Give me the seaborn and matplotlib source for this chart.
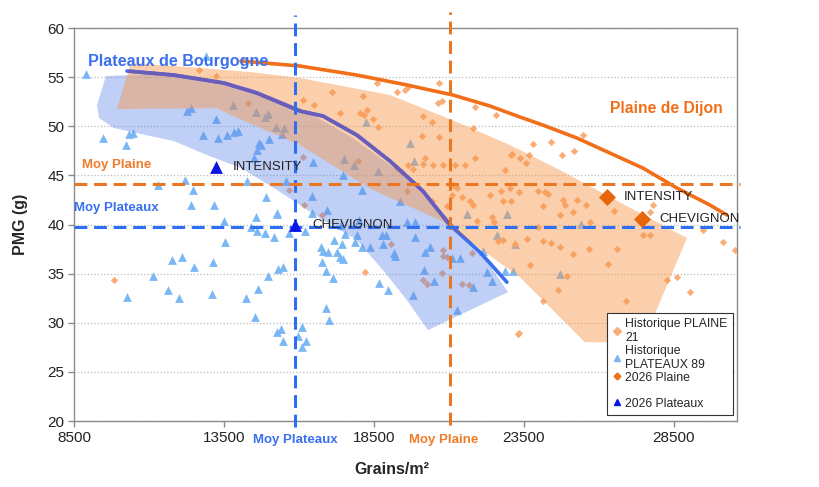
import matplotlib
matplotlib.use("Agg")
import matplotlib.pyplot as plt
import matplotlib.transforms as mtransforms
from matplotlib.lines import Line2D
import seaborn as sns

# Historique PLATEAUX 89 (triangles)
plateaux_x = [8900, 12900, 9470, 10330, 10470, 10230, 12270, 12400, 13230, 12800, 13300, 13600,
              13830, 13970, 13800, 14570, 14870, 14970, 15230, 15500, 15430, 15000, 14670, 14730,
              14600, 14500, 11300, 12200, 12470, 14270, 15570, 14900, 12400, 13170, 14570, 15270,
              13500, 10270, 11130, 11630, 11770, 12100, 12000, 12500, 13530, 13130, 13100, 14230,
              14400, 14600, 14870, 15170, 14630, 14970, 14530, 15300, 15270, 15400, 15470, 15470,
              15670, 15970, 16100, 16230, 16100, 16900, 17000, 16730, 16800, 16770, 16900, 17130,
              16970, 17270, 17370, 17470, 17170, 17430, 17530, 17870, 17930, 18100, 18370, 18670,
              18970, 18770, 18900, 18800, 19170, 19200, 19800, 19870, 20170, 20200, 20370, 20500,
              21270, 21100, 21370, 21800, 22270, 22430, 22870, 23130, 22600, 22130, 18230, 19700,
              19830, 17500, 17830, 18630, 16470, 17470, 18100, 16430, 16930, 19370, 21600, 22930,
              16430, 19870, 25400, 23200, 24700, 15270, 16200, 17400, 18000, 19600]
plateaux_y = [55.3, 57.2, 48.8, 49.2, 49.3, 48.1, 51.6, 51.9, 50.7, 49.1, 48.8, 49.1,
              49.4, 49.5, 52.2, 51.5, 50.9, 51.2, 49.9, 49.8, 49.2, 48.7, 48.3, 48.1,
              47.6, 46.8, 44.0, 44.5, 43.5, 44.4, 44.4, 42.8, 42.0, 42.0, 40.8, 41.2,
              40.4, 32.6, 34.8, 33.3, 36.4, 36.7, 32.5, 35.7, 38.2, 36.2, 32.9, 32.5,
              39.7, 39.3, 39.1, 38.7, 33.4, 34.8, 30.6, 35.5, 29.1, 29.4, 28.1, 35.7,
              39.1, 28.7, 29.6, 28.1, 27.5, 31.5, 30.3, 37.7, 37.3, 36.2, 35.3, 34.6,
              37.2, 37.2, 36.7, 36.5, 38.4, 38.0, 39.0, 38.2, 38.9, 37.7, 37.7, 34.0,
              33.3, 38.9, 38.9, 38.0, 37.1, 36.8, 32.8, 38.7, 35.4, 37.2, 37.7, 34.3,
              31.3, 36.6, 36.6, 33.6, 35.2, 34.3, 35.3, 35.3, 38.9, 37.3, 50.4, 48.3,
              46.5, 46.7, 46.1, 45.4, 46.4, 45.0, 43.5, 42.9, 41.5, 42.4, 41.1, 41.1,
              41.2, 40.3, 40.1, 38.0, 35.0, 41.1, 39.3, 40.0, 40.5, 40.3]

# Historique PLAINE 21 (losanges)
plaine_x = [12670, 13230, 14300, 15670, 9830, 18600, 19270, 19530, 19650, 20670, 17100, 16130,
            16500, 18130, 17370, 18030, 18170, 18270, 18470, 18630, 20130, 20430, 20630, 20770,
            21870, 22570, 21800, 20100, 20670, 23070, 21870, 20200, 20130, 20470, 20800, 19630,
            19270, 19430, 19800, 21200, 21530, 22870, 17970, 16130, 21130, 21270, 21100, 21430,
            21700, 21800, 20430, 20930, 22370, 22730, 23030, 22800, 23070, 21930, 22430, 22500,
            19600, 16770, 16170, 19070, 18200, 20800, 20800, 20930, 20770, 20130, 20270, 21430,
            21670, 21770, 22630, 22800, 23200, 23300, 25470, 23800, 24400, 24770, 25170, 23100,
            23370, 23570, 23670, 23330, 23970, 24200, 24300, 24130, 24800, 24870, 25270, 25570,
            25130, 25700, 26500, 27700, 27800, 24700, 27470, 27700, 29470, 30130, 30530, 23600,
            24130, 24400, 24700, 25130, 25670, 26600, 26300, 23700, 24930, 24630, 24130, 26900,
            28270, 28600, 29030, 23330, 23970]
plaine_y = [55.7, 55.1, 52.4, 43.5, 34.4, 54.4, 53.5, 53.7, 54.0, 54.4, 53.5, 52.7,
            52.2, 53.1, 51.3, 51.3, 51.1, 51.7, 50.7, 49.9, 51.0, 50.4, 52.4, 52.6,
            52.0, 51.1, 49.8, 49.0, 48.9, 47.1, 46.8, 46.8, 46.2, 46.1, 46.1, 46.1,
            45.8, 45.3, 45.6, 46.1, 46.1, 45.5, 46.5, 46.9, 44.0, 43.7, 43.0, 42.8,
            42.4, 42.0, 42.4, 41.9, 43.0, 43.4, 43.7, 42.4, 42.4, 40.4, 40.8, 40.3,
            43.4, 41.0, 42.0, 38.0, 35.2, 37.4, 36.8, 36.7, 35.1, 34.4, 33.9, 33.9,
            33.8, 37.1, 38.3, 38.4, 38.0, 28.9, 49.1, 48.2, 48.4, 47.1, 47.5, 47.2,
            46.8, 46.3, 47.1, 43.3, 43.4, 43.3, 43.1, 41.9, 42.5, 42.0, 42.5, 42.0,
            41.3, 40.3, 41.4, 41.3, 42.0, 41.0, 38.9, 38.9, 39.4, 38.2, 37.4, 38.5,
            38.3, 38.1, 37.7, 37.0, 37.5, 37.5, 36.0, 35.9, 34.8, 33.3, 32.2, 32.2,
            34.4, 34.7, 33.1, 29.0, 39.7]

# 2026
varietes = ["INTENSITY", "CHEVIGNON"]
plaine26_x = [26270, 27430]
plaine26_y = [42.8, 40.6]
plateaux26_x = [13230, 15870]
plateaux26_y = [45.9, 39.9]

# moyennes
moy_plaine_x, moy_plaine_y = 21030, 44.1
moy_plateaux_x, moy_plateaux_y = 15870, 39.77

# enveloppes
env_plaine_x = [10400, 12700, 14367, 16033, 19033, 21267, 23033, 24700, 26367, 28933,
                27467, 25533, 24367, 23367, 20700, 18467, 16033, 13733, 13267, 9933]
env_plaine_y = [56.44, 55.93, 55.52, 54.91, 53.18, 50.43, 48.09, 45.54, 42.79, 38.62,
                28.02, 28.02, 31.59, 34.64, 40.45, 43.50, 48.09, 51.14, 51.85, 51.75]
env_plateaux_x = [9567, 11033, 12700, 14367, 16033, 17700, 19367, 20867, 22200, 22967,
                  20300, 19600, 18800, 17933, 16800, 16033, 15167, 14067, 12933, 11833,
                  10733, 9833, 9333, 9267]
env_plateaux_y = [55.11, 55.32, 54.81, 53.89, 51.85, 49.0, 45.34, 40.96, 36.58, 33.12,
                  29.25, 32.30, 35.36, 38.41, 40.45, 41.98, 43.71, 45.74, 47.07, 48.49,
                  49.21, 49.82, 50.84, 52.16]

# courbes
courbe_plateaux_x = [10267, 11833, 13500, 14600, 16033, 16800, 17933, 19033, 20133, 21033, 22033, 22933]
courbe_plateaux_y = [55.62, 55.21, 54.40, 53.38, 51.55, 51.04, 49.10, 46.46, 43.40, 39.94, 37.19, 34.13]
courbe_plaine_x = [14067, 16033, 17933, 19600, 21133, 22367, 23367, 24133, 25267, 26367, 27467, 28600, 29700, 30267]
courbe_plaine_y = [56.64, 56.13, 55.21, 54.20, 53.18, 52.06, 50.94, 50.12, 48.80, 47.27, 45.74, 43.71, 41.98, 40.96]

BLEU = "#3a6ff0"
ORANGE = "#f26f1a"

sns.set_style("white")
plt.rcParams["font.family"] = ["Liberation Sans", "DejaVu Sans"]

fig = plt.figure(figsize=(8.2, 4.87), dpi=100)
ax = fig.add_axes([0.0902, 0.1355, 0.8085, 0.807])

# points historiques
sns.scatterplot(x=plateaux_x, y=plateaux_y, marker="^", s=40, color="#7ab8f5", linewidth=0, ax=ax, zorder=2)
sns.scatterplot(x=plaine_x, y=plaine_y, marker="D", s=14, color="#f9ad78", linewidth=0, ax=ax, zorder=2)

# enveloppes translucides
ax.fill(env_plateaux_x, env_plateaux_y, color="#5a82e6", alpha=0.38, lw=0, zorder=3)
patch_plaine = ax.fill(env_plaine_x, env_plaine_y, color="#f79646", alpha=0.45, lw=0, zorder=4)[0]

# courbes
sns.lineplot(x=courbe_plateaux_x, y=courbe_plateaux_y, sort=False, estimator=None, color=BLEU, lw=2.6, ax=ax, zorder=5)
sns.lineplot(x=courbe_plateaux_x, y=courbe_plateaux_y, sort=False, estimator=None, color="#6a5cb8", lw=2.6, ax=ax, zorder=6)
ax.lines[-1].set_clip_path(patch_plaine)
sns.lineplot(x=courbe_plaine_x, y=courbe_plaine_y, sort=False, estimator=None, color=ORANGE, lw=2.6, ax=ax, zorder=5)

# moyennes
dash = dict(lw=2.2, dashes=(4.2, 2.2), clip_on=False, zorder=7)
ax.axvline(moy_plateaux_x, ymin=-0.015, ymax=1.033, color="#2e6ef2", **dash)
ax.axvline(moy_plaine_x, ymin=-0.01, ymax=1.04, color="#ea7621", **dash)
ax.axhline(moy_plaine_y, xmin=0, xmax=1.005, color="#ea7621", **dash)
ax.axhline(moy_plateaux_y, xmin=0, xmax=1.005, color="#2e6ef2", **dash)

# 2026
sns.scatterplot(x=plaine26_x, y=plaine26_y, marker="D", s=75, color="#e8650a", linewidth=0, ax=ax, zorder=8)
sns.scatterplot(x=plateaux26_x, y=plateaux26_y, marker="^", s=85, color="#0a14e6", linewidth=0, ax=ax, zorder=8)
for nom, x, y in zip(varietes, plateaux26_x, plateaux26_y):
    ax.text(x + 570, y, nom, fontsize=9.5, color="#222222", va="center", zorder=9)
for nom, x, y in zip(varietes, plaine26_x, plaine26_y):
    ax.text(x + 570, y, nom, fontsize=9.5, color="#222222", va="center", zorder=9)

# étiquettes
ax.text(8967, 56.54, "Plateaux de Bourgogne", fontsize=11.6, fontweight="bold", color=BLEU, va="center", zorder=9)
ax.text(26367, 51.85, "Plaine de Dijon", fontsize=11.3, fontweight="bold", color=ORANGE, va="center", zorder=9)
ax.text(8767, 46.05, "Moy Plaine", fontsize=9.5, fontweight="bold", color="#ee7a2a", va="center", zorder=9)
ax.text(8500, 41.67, "Moy Plateaux", fontsize=9.5, fontweight="bold", color=BLEU, va="center", zorder=9)
trans = mtransforms.blended_transform_factory(ax.transData, ax.transAxes)
ax.text(moy_plateaux_x, -0.048, "Moy Plateaux", transform=trans, fontsize=9.5, fontweight="bold",
        color=BLEU, ha="center", va="center")
ax.text(moy_plaine_x - 200, -0.048, "Moy Plaine", transform=trans, fontsize=9.5, fontweight="bold",
        color="#ee7a2a", ha="center", va="center")

# axes
ax.set_xlim(8500, 30600)
ax.set_ylim(20, 60)
ax.set_xticks([8500, 13500, 18500, 23500, 28500])
ax.set_yticks(range(20, 61, 5))
ax.yaxis.grid(True, color="#bbbbbb", linestyle=":", lw=0.9)
ax.set_axisbelow(True)
for sp in ax.spines.values():
    sp.set_color("#8a8a8a")
    sp.set_linewidth(1.0)
ax.tick_params(bottom=True, left=True, direction="out", length=4, width=1, color="#8a8a8a",
               labelsize=11, labelcolor="#222222", pad=3)
ax.set_xlabel("Grains/m²", fontsize=11.5, fontweight="bold")
ax.set_ylabel("PMG (g)", fontsize=11.5, fontweight="bold")
ax.xaxis.set_label_coords(0.48, -0.105)
ax.yaxis.set_label_coords(-0.07, 0.5)

handles = [
    Line2D([], [], marker="D", markersize=4, color="#f9ad78", linestyle="None"),
    Line2D([], [], marker="^", markersize=5, color="#7ab8f5", linestyle="None"),
    Line2D([], [], marker="D", markersize=3.5, color="#e8731a", linestyle="None"),
    Line2D([], [], linestyle="None"),
    Line2D([], [], marker="^", markersize=4.5, color="#0a14e6", linestyle="None"),
]
labels = ["Historique PLAINE\n21", "Historique\nPLATEAUX 89", "2026 Plaine", " ", "2026 Plateaux"]
leg = ax.legend(handles, labels, loc="lower right", bbox_to_anchor=(0.994, 0.015), borderaxespad=0,
                fontsize=8.8, frameon=True, fancybox=False, edgecolor="#333333", framealpha=1,
                handlelength=0.6, handletextpad=0.4, borderpad=0.45, labelspacing=0.08)
leg.get_frame().set_linewidth(0.8)
leg.set_zorder(10)

fig.savefig("out.png", dpi=100)
